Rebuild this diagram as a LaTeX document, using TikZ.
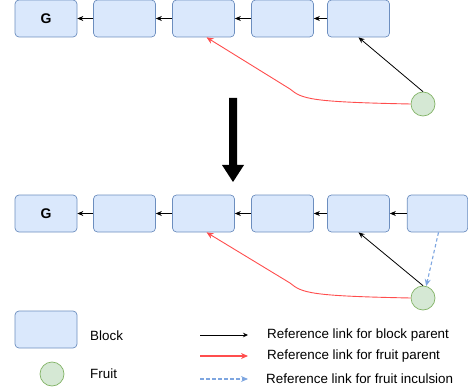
\documentclass[tikz,border=0pt]{standalone}
\usepackage{fontspec}
\setmainfont{Liberation Sans}
\usetikzlibrary{arrows.meta,calc}
\definecolor{blockfill}{HTML}{DAE8FC}
\definecolor{blockdraw}{HTML}{6C8EBF}
\definecolor{fruitfill}{HTML}{D5E8D4}
\definecolor{fruitdraw}{HTML}{82B366}
\definecolor{redlink}{HTML}{FF4D4D}
\definecolor{bluelink}{HTML}{7EA6E0}
\begin{document}
\begin{tikzpicture}[x=1pt,y=-1pt,
  block/.style={draw=blockdraw,fill=blockfill,rounded corners=4pt,minimum width=62pt,minimum height=37pt,inner sep=0pt,line width=0.7pt,font=\bfseries\fontsize{14}{16}\selectfont},
  fruit/.style={circle,draw=fruitdraw,fill=fruitfill,minimum size=24pt,inner sep=0pt,line width=0.7pt},
  blacklink/.style={-{Stealth[length=6pt,width=5pt]},line width=0.8pt,black},
  redlinkstyle/.style={-{Stealth[length=7pt,width=6pt]},line width=0.9pt,redlink},
  bluelinkstyle/.style={-{Stealth[length=7pt,width=6pt]},line width=1.1pt,bluelink,dash pattern=on 3.5pt off 2.5pt},
  legtext/.style={anchor=west,inner sep=0pt,font=\fontsize{13.4}{15}\selectfont}
]
\useasboundingbox (0,0) rectangle (468,390);
% top row
\node[block] (a1) at (46,18.5) {G};
\node[block] (a2) at (124.5,18.5) {};
\node[block] (a3) at (203.5,18.5) {};
\node[block] (a4) at (282.5,18.5) {};
\node[block] (a5) at (358.5,18.5) {};
\node[fruit] (f1) at (423,104) {};
\draw[blacklink] (a2.west) -- (a1.east);
\draw[blacklink] (a3.west) -- (a2.east);
\draw[blacklink] (a4.west) -- (a3.east);
\draw[blacklink] (a5.west) -- (a4.east);
\draw[blacklink] (f1.north) -- (a5.south);
\coordinate (t3) at ($(a3.south)+(3,0)$);
\draw[redlinkstyle] (f1.west) .. controls (310,102) and (302,99) .. (290,89) -- (t3);
% big arrow
\coordinate (bigtop) at (233,98);
\coordinate (bigtip) at (233,182);
\fill[black] ($(bigtop)+(-4,0)$) -- ($(bigtop)+(4,0)$) -- ($(bigtip)+(4,-17)$) -- ($(bigtip)+(11,-17)$) -- (bigtip) -- ($(bigtip)+(-11,-17)$) -- ($(bigtip)+(-4,-17)$) -- cycle;
% bottom row
\node[block] (b1) at (46,213.5) {G};
\node[block] (b2) at (124.5,213.5) {};
\node[block] (b3) at (203.5,213.5) {};
\node[block] (b4) at (282.5,213.5) {};
\node[block] (b5) at (358.5,213.5) {};
\node[block,minimum width=60.5pt] (b6) at (437.5,213.5) {};
\node[fruit] (f2) at (423,298) {};
\draw[blacklink] (b2.west) -- (b1.east);
\draw[blacklink] (b3.west) -- (b2.east);
\draw[blacklink] (b4.west) -- (b3.east);
\draw[blacklink] (b5.west) -- (b4.east);
\draw[blacklink] (b6.west) -- (b5.east);
\draw[blacklink] (f2.north) -- (b5.south);
\coordinate (u3) at ($(b3.south)+(3,0)$);
\draw[redlinkstyle] (f2.west) .. controls (310,296) and (302,293) .. (290,283) -- (u3);
\draw[bluelinkstyle] ($(b6.south)+(1,0)$) -- (f2.75);
% legend
\node[block] (lb) at (46,329.5) {};
\node[fruit] (lf) at (52,374) {};
\node[legtext] (lbt) at (90,336) {Block};
\node[legtext] (lft) at (90,374) {Fruit};
\coordinate (l1s) at (200,335); \coordinate (l1e) at (248,335);
\coordinate (l2s) at (200,356); \coordinate (l2e) at (248,356);
\coordinate (l3s) at (200,379); \coordinate (l3e) at (248,379);
\draw[blacklink,-{Stealth[length=5pt,width=4.5pt]}] (l1s) -- (l1e);
\draw[redlinkstyle,line width=1.2pt] (l2s) -- (l2e);
\draw[bluelinkstyle] (l3s) -- (l3e);
\node[legtext] (t1) at (267,335) {Reference link for block parent};
\node[legtext] (t2) at (267,356) {Reference link for fruit parent};
\node[legtext] (t3t) at (266,379) {Reference link for fruit inculsion};
\end{tikzpicture}
\end{document}
